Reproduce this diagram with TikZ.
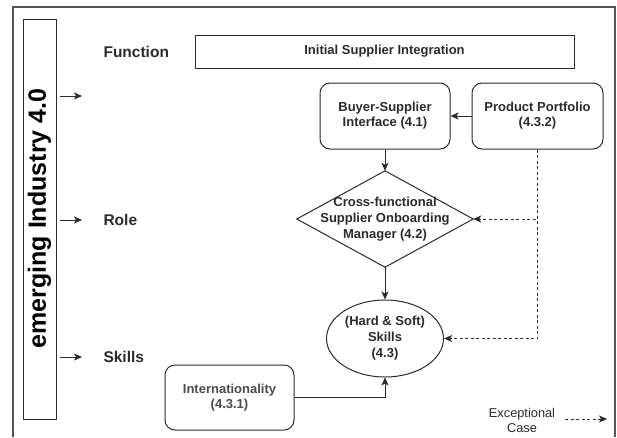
\documentclass[tikz,border=0pt]{standalone}
\usepackage{fontspec}
\setmainfont{Liberation Sans}
\usetikzlibrary{arrows.meta,shapes.geometric}
\definecolor{ink}{HTML}{2B2B2B}
\definecolor{frame}{HTML}{555555}
\tikzset{
  conn/.style={draw=ink,line width=1pt,-{Stealth[length=8pt,width=7pt,inset=2pt]}},
  dconn/.style={conn,dash pattern=on 3pt off 2.5pt},
  rbox/.style={draw=ink,line width=1pt,rounded corners=10pt,align=center,text=ink,
    font=\bfseries\fontsize{13}{15}\selectfont},
  lbl/.style={anchor=west,text=ink,font=\bfseries\fontsize{15.5}{18}\selectfont},
  ntext/.style={align=center,text=ink,font=\bfseries\fontsize{13}{16}\selectfont,inner sep=0pt}
}
\begin{document}
\begin{tikzpicture}[x=1pt,y=-1pt]
\useasboundingbox (0,0) rectangle (617,437);
\fill[white] (0,0) rectangle (617,437);
% outer frame
\draw[frame,line width=1.2pt] (13,437) -- (13,7) -- (615,7) -- (615,437);
% title box
\node[draw=ink,line width=1pt,minimum width=33pt,minimum height=400pt,inner sep=0pt] (title) at (39.5,219) {};
\node[rotate=90,text=black,font=\bfseries\fontsize{25}{28}\selectfont] (titletext) at (39.5,218.5) {emerging Industry 4.0};
% side arrows
\coordinate (a1s) at (60,96);  \coordinate (a1e) at (82,96);
\coordinate (a2s) at (60,220); \coordinate (a2e) at (82,220);
\coordinate (a3s) at (60,357); \coordinate (a3e) at (82,357);
\draw[conn] (a1s) -- (a1e);
\draw[conn] (a2s) -- (a2e);
\draw[conn] (a3s) -- (a3e);
% labels
\node[lbl] (lfun) at (100,52) {Function};
\node[lbl] (lrole) at (100,220) {Role};
\node[lbl] (lskills) at (100,357) {Skills};
% function box
\node[draw=ink,line width=1pt,minimum width=379pt,minimum height=33pt,inner sep=0pt,text=ink,
  font=\bfseries\fontsize{13}{15}\selectfont] (func) at (384.5,51.5) {Initial Supplier Integration};
% boxes
\node[rbox,minimum width=130pt,minimum height=66pt] (bsi) at (385,116) {Buyer-Supplier\\Interface (4.1)};
\node[rbox,minimum width=131pt,minimum height=66pt] (pp) at (537.5,116) {Product Portfolio\\(4.3.2)};
\node[rbox,minimum width=129pt,minimum height=65pt,text=ink!85] (intl) at (229.5,397.5) {Internationality\\(4.3.1)};
% diamond
\node[ntext,minimum width=176pt,minimum height=96pt] (dm) at (385,219) {Cross-functional\\Supplier Onboarding\\Manager (4.2)};
\draw[ink,line width=1pt] (dm.north) -- (dm.east) -- (dm.south) -- (dm.west) -- cycle;
% ellipse
\node[ntext,draw=ink,line width=1pt,ellipse,minimum width=117pt,minimum height=77pt] (el) at (385,338.5) {(Hard \& Soft)\\Skills\\(4.3)};
% connectors
\draw[conn] (pp.west) -- (bsi.east);
\draw[conn] (bsi.south) -- (dm.north);
\draw[conn] (dm.south) -- (el.north);
\draw[dconn] (pp.south) |- (dm.east);
\draw[dconn] (pp.south) |- (el.east);
\draw[conn] (intl.east) -| (el.south);
% legend
\node[align=center,text=ink,font=\fontsize{12.8}{15}\selectfont,inner sep=0pt] (exc) at (522,420) {Exceptional\\Case};
\coordinate (ex1) at (565,419);
\coordinate (ex2) at (607,419);
\draw[dconn] (ex1) -- (ex2);
\end{tikzpicture}
\end{document}
